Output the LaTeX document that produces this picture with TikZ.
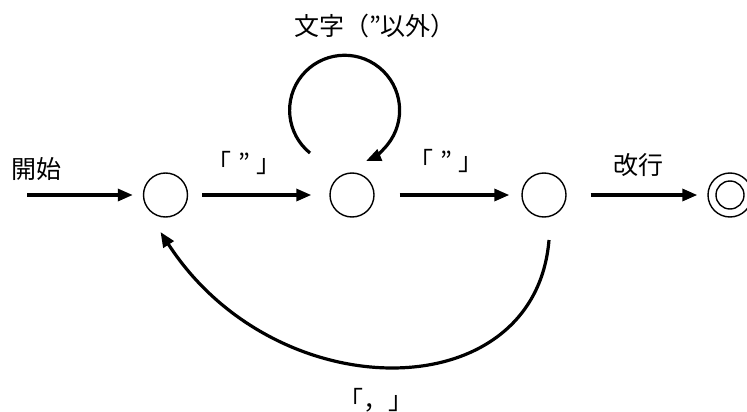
\documentclass[tikz,border=0pt]{standalone}
\usepackage{fontspec}
\newfontfamily\jp{Noto Sans CJK JP}
\usetikzlibrary{arrows.meta}
\begin{document}
\begin{tikzpicture}[x=1pt,y=1pt,
  state/.style={circle,draw,line width=1.4pt,minimum size=44pt,inner sep=0pt},
  arr/.style={line width=3.2pt,-{Triangle[length=15pt,width=12pt]}},
  lbl/.style={font=\jp\fontsize{25}{29}\selectfont,inner sep=0pt}]
\useasboundingbox (0,0) rectangle (747,-412);
\coordinate (s) at (27,-195);
\node[state] (q1) at (165.5,-195) {};
\node[state] (q2) at (352,-195) {};
\node[state] (q3) at (544,-195) {};
\node[state] (qf) at (730,-195) {};
\draw[line width=1.4pt] (qf.center) circle[radius=14pt];
\draw[arr] (s) -- ([xshift=-10pt]q1.west);
\draw[arr] ([xshift=14pt]q1.east) -- ([xshift=-18pt]q2.west);
\draw[arr] ([xshift=25pt]q2.east) -- ([xshift=-12pt]q3.west);
\draw[arr] ([xshift=24pt]q3.east) -- ([xshift=-10pt]qf.west);
\draw[arr] ([shift={(-42,42)}]q2.center) arc[start angle=231,end angle=-67,radius=55];
\draw[arr] ([shift={(5,-45)}]q3.center) .. controls +(-14,-170) and +(115,-178) .. ([shift={(-5,-37)}]q1.center);
\node[lbl] (l0) at (37,-169) {開始};
\node[lbl] (l1) at (244,-163) {「\hspace{0.25em}”\hspace{0.25em}」};
\node[lbl] (l2) at (446,-161) {「\hspace{0.25em}”\hspace{0.25em}」};
\node[lbl] (l3) at (638,-165) {改行};
\node[lbl] (l4) at (375,-26) {文字（”以外）};
\node[lbl] (l5) at (376,-400) {「，」};
\end{tikzpicture}
\end{document}
